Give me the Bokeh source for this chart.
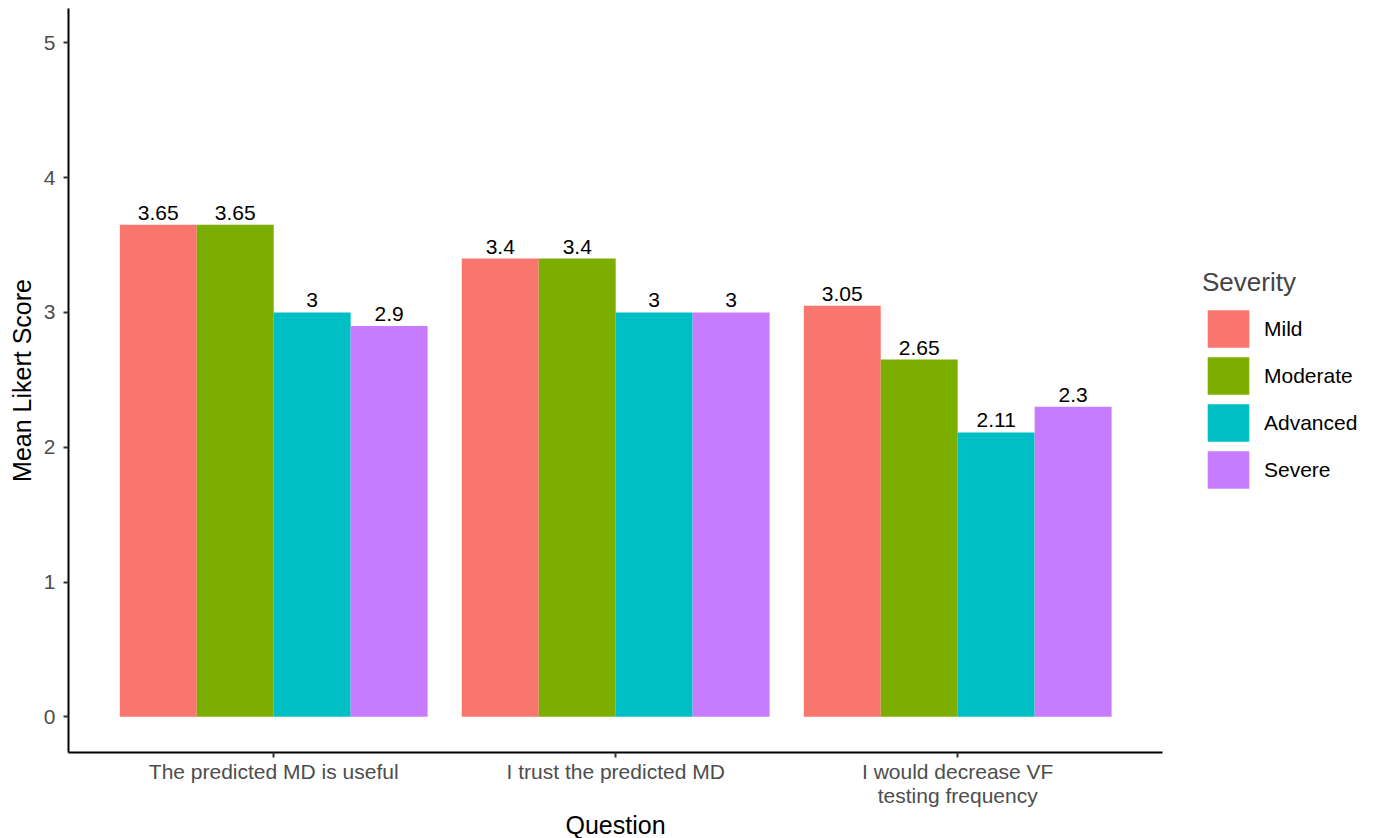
from bokeh.plotting import figure
from bokeh.models import (ColumnDataSource, Range1d, FixedTicker, Legend, LegendItem, Title)
from bokeh.transform import dodge
from bokeh.core.properties import value
from bokeh.embed import file_html
from bokeh.resources import INLINE

# ---- data ----
questions = ["The predicted MD is useful", "I trust the predicted MD",
             "I would decrease VF\ntesting frequency"]
severities = ["Mild", "Moderate", "Advanced", "Severe"]
mild = [3.65, 3.4, 3.05]
moderate = [3.65, 3.4, 2.65]
advanced = [3.0, 3.0, 2.11]
severe = [2.9, 3.0, 2.3]
y_ticks = [0, 1, 2, 3, 4, 5]

colors = ["#F8766D", "#7CAE00", "#00BFC4", "#C77CFF"]
FONT = "Liberation Sans"

xpos = list(range(1, len(questions) + 1))
series = [mild, moderate, advanced, severe]
data = dict(x=xpos)
for name, vals in zip(severities, series):
    data[name] = vals
    data[name + "_lbl"] = ["{:g}".format(v) for v in vals]
source = ColumnDataSource(data)

W, H = 1374, 838
LEFT, RIGHT, BOTTOM, TOP = 68, 8, 86, 8
px_per_unit = 342.0
x_start = 0.4
x_end = x_start + (W - LEFT - RIGHT) / px_per_unit   # extra room on the right holds the legend

p = figure(width=W, height=H, output_backend="svg", toolbar_location=None,
           x_range=Range1d(x_start, x_end), y_range=Range1d(-0.265, 5.255),
           min_border_left=LEFT, min_border_right=RIGHT, min_border_top=TOP,
           min_border_bottom=BOTTOM)
p.outline_line_color = None
p.xgrid.grid_line_color = None
p.ygrid.grid_line_color = None
p.background_fill_color = "white"
p.border_fill_color = "white"

bw = 0.225
offsets = [-1.5 * bw, -0.5 * bw, 0.5 * bw, 1.5 * bw]
items = []
for name, col, off in zip(severities, colors, offsets):
    r = p.vbar(x=dodge("x", off), top=name, width=bw, bottom=0, source=source,
               fill_color=col, line_color=None)
    p.text(x=dodge("x", off), y=name, text=name + "_lbl", source=source,
           text_align="center", text_baseline="alphabetic", y_offset=-12,
           text_font=value(FONT), text_font_size="21px", text_color="black")
    items.append(LegendItem(label=name, renderers=[r]))

# axes
for ax in (p.xaxis[0], p.yaxis[0]):
    ax.axis_line_color = "black"
    ax.axis_line_width = 2
    ax.major_tick_line_color = "#333333"
    ax.major_tick_line_width = 2
    ax.major_tick_out = 5
    ax.major_tick_in = 0
    ax.minor_tick_line_color = None
    ax.major_label_text_font = FONT
    ax.major_label_text_font_size = "21px"
    ax.major_label_text_color = "#4D4D4D"
    ax.axis_label_text_font = FONT
    ax.axis_label_text_font_size = "25px"
    ax.axis_label_text_font_style = "normal"
    ax.axis_label_text_color = "black"

p.xaxis.ticker = FixedTicker(ticks=xpos)
p.xaxis.bounds = (0.4, 3.6)
p.xaxis.major_label_overrides = {i: q for i, q in zip(xpos, questions)}
p.xaxis.major_label_standoff = 2
p.xaxis.major_label_text_line_height = 1.05

# x-axis title, centred under the axis line (not under the wider frame)
xtitle = Title(text="Question", align="left", offset=497, standoff=-1,
               text_font=FONT, text_font_size="25px", text_font_style="normal",
               text_color="black")
p.add_layout(xtitle, "below")

p.yaxis.ticker = FixedTicker(ticks=y_ticks)
p.yaxis.axis_label = "Mean Likert Score"
p.yaxis.major_label_standoff = 8
p.yaxis.axis_label_standoff = 5

legend = Legend(items=items, title="Severity", location="center_right",
                glyph_width=52, glyph_height=47, spacing=0, label_standoff=10,
                label_width=102,
                margin=0, padding=0, border_line_color=None,
                background_fill_alpha=0,
                title_text_font=FONT, title_text_font_size="26px",
                title_text_font_style="normal", title_standoff=7,
                label_text_font=FONT, label_text_font_size="21px",
                label_text_color="black")
p.add_layout(legend, "center")

open("out.html", "w").write(file_html(p, INLINE))
